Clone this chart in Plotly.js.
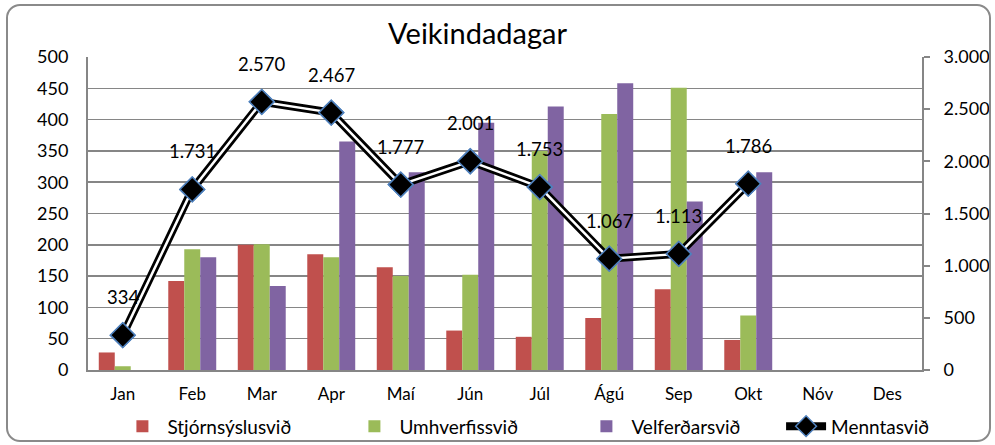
<!DOCTYPE html>
<html>
<head>
<meta charset="utf-8">
<script src="https://cdn.plot.ly/plotly-3.0.1.min.js"></script>
<style>
html,body{margin:0;padding:0;background:#fff;}
#wrap{position:relative;width:995px;height:445px;}
#chart{position:absolute;left:0;top:0;width:995px;height:445px;}
#frame{position:absolute;left:6px;top:4px;width:981px;height:434px;border:2px solid #8a8a8a;border-radius:14px;pointer-events:none;}
</style>
</head>
<body>
<div id="wrap"><div id="chart"></div><div id="frame"></div></div>
<script>
const months = ["Jan","Feb","Mar","Apr","Maí","Jún","Júl","Ágú","Sep","Okt","Nóv","Des"];
const stjornsysla = [28,142,200,185,164,63,53,83,129,48,null,null];
const umhverfi   = [6,193,201,180,150,152,350,409,451,87,null,null];
const velferd    = [0,180,134,365,316,395,421,458,269,316,null,null];
const mennta     = [334,1731,2570,2467,1777,2001,1753,1067,1113,1786,null,null];

const FONT = "Lato, 'Open Sans', sans-serif";
const lineMonths = months.slice(0,10);
const lineVals = mennta.slice(0,10);

const traces = [
  {type:'bar', name:'Stjórnsýslusvið', x:months, y:stjornsysla, marker:{color:'#C0504D'}},
  {type:'bar', name:'Umhverfissvið', x:months, y:umhverfi, marker:{color:'#9BBB59'}},
  {type:'bar', name:'Velferðarsvið', x:months, y:velferd, marker:{color:'#8064A2'}},
  {type:'scatter', mode:'lines+markers', name:'Menntasvið', x:lineMonths, y:lineVals, yaxis:'y2', legend:'legend2',
   line:{color:'#000', width:8}, marker:{symbol:'diamond', size:19, color:'#000', line:{color:'#4F81BD', width:1.5}}},
  {type:'scatter', mode:'lines', x:lineMonths, y:lineVals, yaxis:'y2', showlegend:false, hoverinfo:'skip',
   line:{color:'#fff', width:2.5}},
  {type:'scatter', mode:'markers', x:lineMonths, y:lineVals, yaxis:'y2', showlegend:false,
   marker:{symbol:'diamond', size:19, color:'#000', line:{color:'#4F81BD', width:1.5}}}
];

const annotations = lineMonths.map((m,i)=>({
  x:m, y:lineVals[i], xref:'x', yref:'y2', yshift:38, showarrow:false,
  text: lineVals[i].toString().replace(/\B(?=(\d{3})+(?!\d))/g,'.'),
  font:{family:FONT, size:18.5, color:'#000'}
}));

const legendBase = {orientation:'h', xref:'container', yref:'container', xanchor:'left', y:0.042, yanchor:'middle',
  font:{family:FONT, size:19}, traceorder:'normal', itemwidth:40, bgcolor:'rgba(0,0,0,0)'};

const layout = {
  width:995, height:445,
  margin:{l:88, r:73, t:57, b:75, autoexpand:false},
  paper_bgcolor:'rgba(0,0,0,0)', plot_bgcolor:'#fff',
  separators:',.',
  title:{text:'Veikindadagar', x:0.48, xanchor:'center', y:0.925, yanchor:'middle', font:{family:FONT, size:29, color:'#000'}},
  font:{family:FONT, size:17, color:'#000'},
  barmode:'group', bargap:0.31, bargroupgap:0,
  xaxis:{type:'category', categoryorder:'array', categoryarray:months, range:[-0.5,11.5],
         showline:true, linecolor:'#868686', linewidth:2, ticks:'', ticklabelstandoff:8,
         tickfont:{family:FONT, size:17}, showgrid:false},
  yaxis:{range:[0,500], dtick:50, showgrid:true, gridcolor:'#868686', gridwidth:1.5,
         showline:true, linecolor:'#868686', linewidth:2, ticks:'', ticklabelstandoff:14,
         tickfont:{family:FONT, size:18}, zeroline:false},
  yaxis2:{overlaying:'y', side:'right', range:[0,3000], dtick:500, tickformat:',d',
          showgrid:false, showline:true, linecolor:'#868686', linewidth:2, ticks:'outside', ticklen:6,
          tickcolor:'#868686', tickwidth:2, ticklabelstandoff:10, tickfont:{family:FONT, size:18}, zeroline:false},
  legend:Object.assign({}, legendBase, {x:0.118, entrywidth:177, entrywidthmode:'pixels'}),
  legend2:Object.assign({}, legendBase, {x:0.785}),
  annotations:annotations,
  showlegend:true
};

Plotly.newPlot('chart', traces, layout, {displayModeBar:false, staticPlot:true});
</script>
</body>
</html>
